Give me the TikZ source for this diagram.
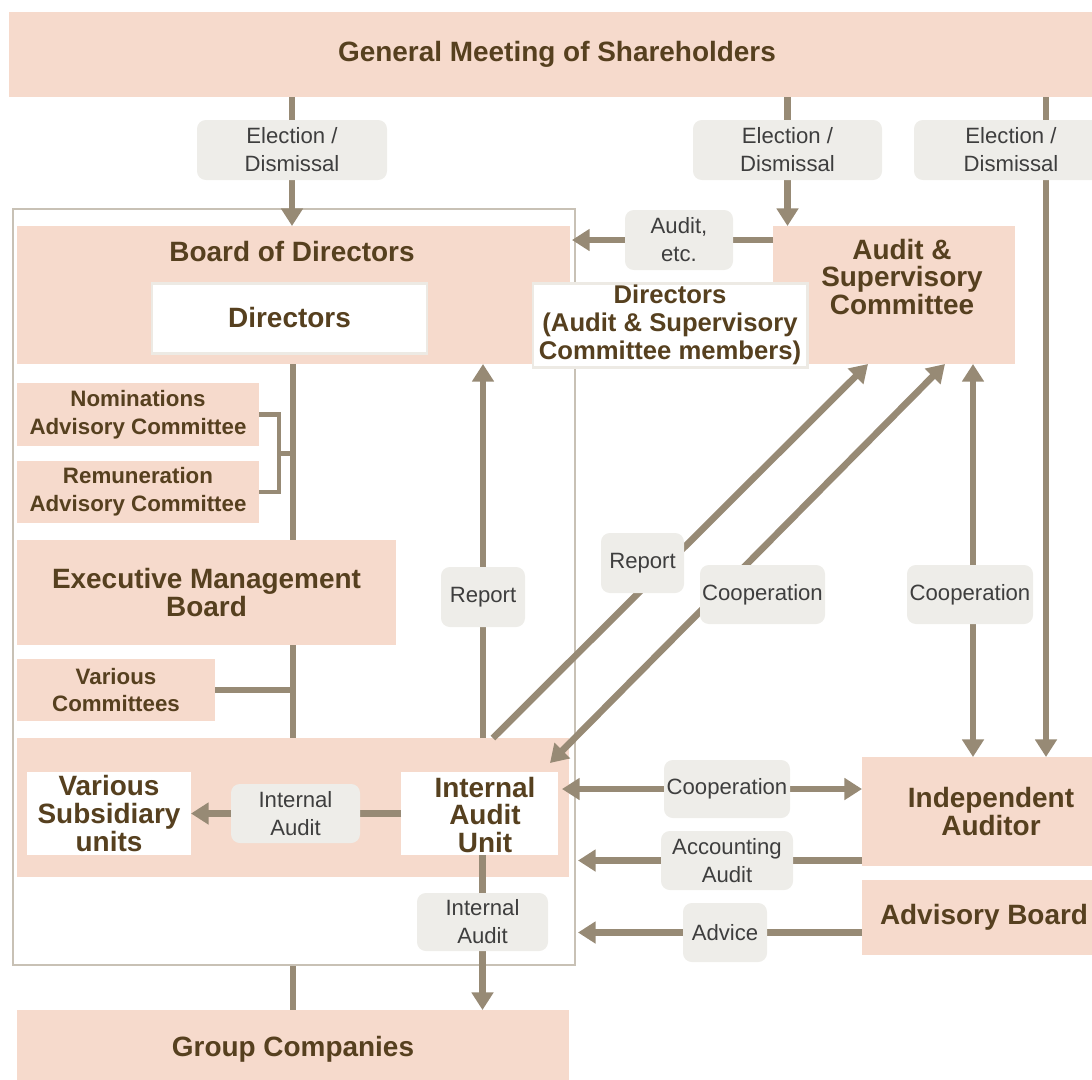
\documentclass[tikz,border=0pt]{standalone}
\usepackage{fontspec}
\setmainfont{Liberation Sans}
\usetikzlibrary{arrows.meta,calc}
\definecolor{peachc}{HTML}{F6DACC}
\definecolor{brownc}{HTML}{56401F}
\definecolor{arrowc}{HTML}{978A75}
\definecolor{tagc}{HTML}{EEEDE9}
\definecolor{tagtxt}{HTML}{3E3E3E}
\definecolor{framec}{HTML}{C8C1B5}
\definecolor{edgec}{HTML}{EDEAE4}
\pgfdeclarelayer{back}
\pgfdeclarelayer{front}
\pgfsetlayers{back,main,front}
\newcommand\bigfont{\fontsize{15.9}{15.9}\selectfont\bfseries}
\newcommand\midfont{\fontsize{14.6}{15.9}\selectfont\bfseries}
\newcommand\smallfont{\fontsize{12.7}{15.9}\selectfont\bfseries}
\newcommand\tagfont{\fontsize{12.6}{15.9}\selectfont}
\begin{document}
\begin{tikzpicture}[x=0.02cm,y=-0.02cm,
  every node/.style={inner sep=0pt, outer sep=0pt},
  blk/.style n args={4}{minimum width={(#3-#1)*0.02cm}, minimum height={(#4-#2)*0.02cm},
    at={(#1/2+#3/2,#2/2+#4/2)}},
  orgbox/.style={fill=peachc, text=brownc, align=center, font=\bigfont},
  whitebox/.style={fill=white, draw=edgec, line width=1.7pt, text=brownc, align=center, font=\bigfont},
  tag/.style={fill=tagc, rounded corners=5pt, text=tagtxt, align=center, font=\tagfont},
  arr/.style={draw=arrowc, line width=3.8pt, -{Triangle[width=12pt,length=10pt]}},
  dbl/.style={draw=arrowc, line width=3.8pt, {Triangle[width=12pt,length=10pt]}-{Triangle[width=12pt,length=10pt]}},
  plain/.style={draw=arrowc, line width=3.9pt},
]
\useasboundingbox (0,0) rectangle (1092,1079);

% boxes
\node[orgbox, blk={9}{12}{1105}{97}] (gms) {General Meeting of Shareholders};
\node[draw=framec, line width=0.8pt, blk={13}{209}{575}{965}] (frame) {};
\node[orgbox, blk={17}{226}{570}{364}] (board) {};
\node[orgbox, fill=none] (boardt) at (292,252) {Board of Directors};
\node[whitebox, blk={152}{283}{427}{353}] (dirs) {Directors};
\node[orgbox, blk={773}{226}{1015}{364}] (asc) {};
\node[orgbox, fill=none] (asct) at (902,277) {Audit \&\\Supervisory\\Committee};
\node[whitebox, font=\midfont, blk={533}{283}{807}{367}] (dasc) {Directors\\(Audit \& Supervisory\\Committee members)};
\node[orgbox, font=\smallfont, blk={17}{383}{259}{446}] (nom) {Nominations\\Advisory Committee};
\node[orgbox, font=\smallfont, blk={17}{461}{259}{523}] (rem) {Remuneration\\Advisory Committee};
\node[orgbox, blk={17}{540}{396}{645}] (emb) {Executive Management\\Board};
\node[orgbox, font=\smallfont, blk={17}{659}{215}{721}] (vc) {Various\\Committees};
\node[orgbox, blk={17}{738}{569}{877}] (iaa) {};
\node[whitebox, draw=none, blk={27}{772}{191}{855}] (vsu) {Various\\Subsidiary\\units};
\node[whitebox, draw=none, blk={401}{772}{558}{855}] (iau) {};
\node[orgbox, fill=none] (iaut) at (485,815) {Internal\\Audit\\Unit};
\node[orgbox, blk={862}{757}{1120}{866}] (iaud) {Independent\\Auditor};
\node[orgbox, blk={862}{880}{1106}{955}] (advb) {Advisory Board};
\node[orgbox, blk={17}{1010}{569}{1088}] (grp) {Group Companies};

% labels on the connectors
\begin{pgfonlayer}{front}
\node[tag, blk={197}{120}{387}{180}] (el1) {Election /\\Dismissal};
\node[tag, blk={693}{120}{882}{180}] (el2) {Election /\\Dismissal};
\node[tag, blk={914}{120}{1108}{180}] (el3) {Election /\\Dismissal};
\node[tag, blk={625}{210}{733}{270}] (aetc) {Audit,\\etc.};
\node[tag, blk={441}{567}{525}{627}] (rep1) {Report};
\node[tag, blk={601}{533}{684}{593}] (rep2) {Report};
\node[tag, blk={700}{565}{825}{624}] (coop1) {Cooperation};
\node[tag, blk={907}{565}{1033}{624}] (coop2) {Cooperation};
\node[tag, blk={664}{760}{790}{818}] (coop3) {Cooperation};
\node[tag, blk={661}{831}{793}{890}] (acc) {Accounting\\Audit};
\node[tag, blk={683}{903}{767}{962}] (adv) {Advice};
\node[tag, blk={231}{784}{360}{843}] (ia1) {Internal\\Audit};
\node[tag, blk={417}{893}{548}{951}] (ia2) {Internal\\Audit};
\end{pgfonlayer}

% line of the executive side, running behind the boxes
\begin{pgfonlayer}{back}
\coordinate (xs) at (293,0);
\draw[plain] (board.south -| xs) -- (iaa.north -| xs);
\draw[plain] (frame.south -| xs) -- (grp.north -| xs);
\draw[plain, line width=2.8pt] (nom.east) -- ++(20,0) |- (rem.east);
\coordinate (brk) at ($(nom.east)!.5!(rem.east)+(20,0)$);
\draw[plain, line width=2.8pt] (brk) -- (brk -| xs);
\draw[plain] (vc.east) -- (vc.east -| xs);
\end{pgfonlayer}

% connectors
\coordinate (x3) at (1046,0);
\coordinate (xr2) at (493,0);
\coordinate (xr2b) at (868,0);
\coordinate (xc1) at (945,0);
\coordinate (xc2) at (973,0);
\coordinate (ciend) at (550,763);
\draw[arr] (gms.south -| el1) -- (board.north -| el1);
\draw[arr] (gms.south -| el2) -- (asc.north -| el2);
\draw[arr] (gms.south -| x3) -- (iaud.north -| x3);
\draw[arr] (asc.west |- aetc) -- ($(board.east |- aetc)+(2,0)$);
\draw[arr] (iaa.north -| rep1) -- (board.south -| rep1);
\draw[arr] (iaa.north -| xr2) -- (asc.south -| xr2b);
\draw[dbl] (asc.south -| xc1) -- (ciend);
\draw[dbl] (asc.south -| xc2) -- (iaud.north -| xc2);
\draw[dbl] ($(iaa.east |- coop3)+(-7,0)$) -- (iaud.west |- coop3);
\draw[arr] (iaud.west |- acc) -- ($(frame.east |- acc)+(3,0)$);
\draw[arr] (advb.west |- adv) -- ($(frame.east |- adv)+(3,0)$);
\draw[arr] (iau.west) -- (vsu.east);
\draw[arr] (iau.south -| ia2) -- (grp.north -| ia2);
\end{tikzpicture}
\end{document}
